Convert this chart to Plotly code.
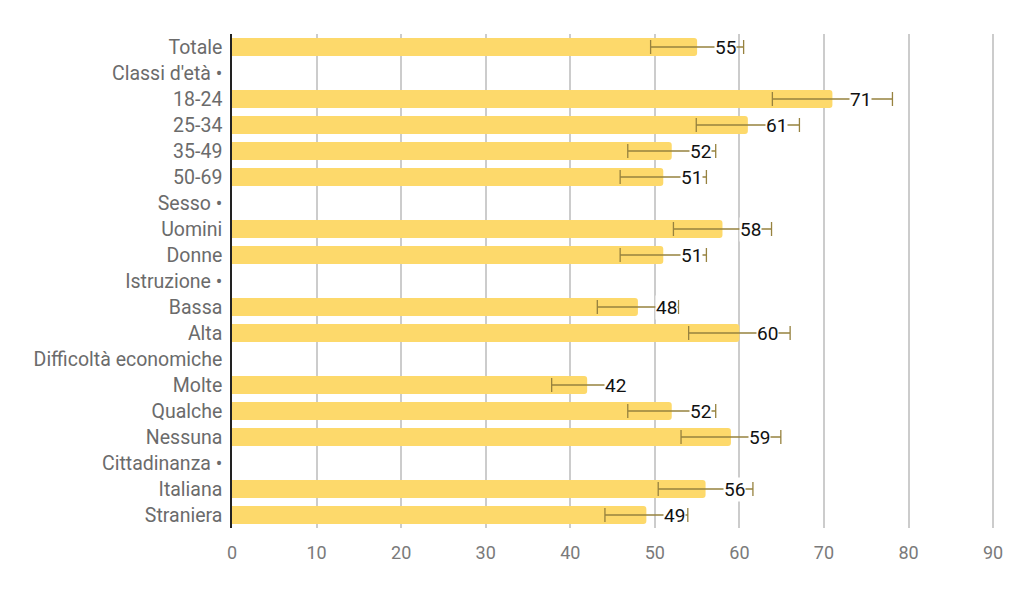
import plotly.graph_objects as go

categories = ['Totale', "Classi d'età •", '18-24', '25-34', '35-49', '50-69',
              'Sesso •', 'Uomini', 'Donne', 'Istruzione •', 'Bassa', 'Alta',
              'Difficoltà economiche', 'Molte', 'Qualche', 'Nessuna',
              'Cittadinanza •', 'Italiana', 'Straniera']
values = [55, None, 71, 61, 52, 51, None, 58, 51, None, 48, 60,
          None, 42, 52, 59, None, 56, 49]
errors = [5.5, None, 7.1, 6.1, 5.2, 5.1, None, 5.8, 5.1, None, 4.8, 6.0,
          None, 4.2, 5.2, 5.9, None, 5.6, 4.9]
x_ticks = [0, 10, 20, 30, 40, 50, 60, 70, 80, 90]

fig = go.Figure()
fig.add_trace(go.Bar(
    x=values, y=categories, orientation='h',
    marker=dict(color='#FDD96B', line=dict(width=0), cornerradius=3),
    width=0.7,
    error_x=dict(type='data', array=errors, visible=True,
                 color='#97823F', thickness=1.3, width=7),
    hoverinfo='x+y',
))

for cat, val in zip(categories, values):
    if val is None:
        continue
    fig.add_annotation(x=val, y=cat, text=str(val), showarrow=False,
                       xanchor='left', xshift=17, bgcolor='white', borderpad=0,
                       font=dict(family='Roboto', size=19, color='#111111'))

fig.update_layout(
    width=1024, height=595,
    margin=dict(l=224, r=22, t=26, b=75),
    plot_bgcolor='white', paper_bgcolor='white',
    showlegend=False,
    bargap=0.3,
    font=dict(family='Roboto', size=19, color='#666666'),
)
fig.update_xaxes(
    range=[0, 92], tickvals=x_ticks, showgrid=True, gridcolor='#CCCCCC',
    gridwidth=1.5, zeroline=False, showline=False, ticks='',
    ticklabelstandoff=12,
    tickfont=dict(size=18, color='#7a7a7a'),
)
fig.update_yaxes(
    categoryorder='array', categoryarray=categories, autorange='reversed',
    showline=True, linecolor='#222222', linewidth=1.5, ticks='',
    ticklabelstandoff=4, showgrid=False,
    tickfont=dict(size=19.5, color='#6b6b6b'),
)

fig.write_html("out.html")
